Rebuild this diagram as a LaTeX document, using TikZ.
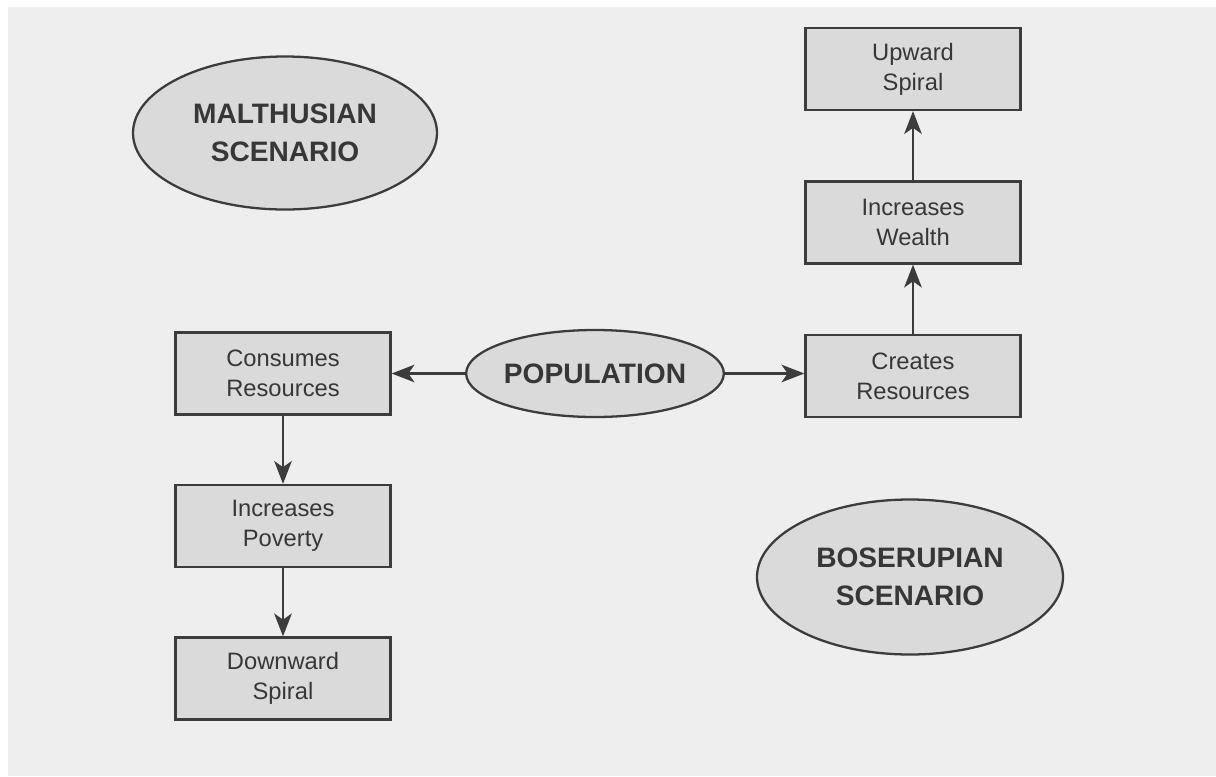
\documentclass[tikz,border=0pt]{standalone}
\usepackage{fontspec}
\setmainfont{Liberation Sans}
\usetikzlibrary{arrows.meta, shapes, positioning, calc}
\definecolor{PageGray}{RGB}{238,238,238}
\definecolor{BoxGray}{RGB}{218,218,218}
\definecolor{LineGray}{RGB}{60,60,60}
\definecolor{InkGray}{RGB}{55,55,55}

\begin{document}
\begin{tikzpicture}[
        stepbox/.style={draw=LineGray, line width=1.3pt, fill=BoxGray, text=InkGray,
            minimum width=4.3cm, minimum height=1.64cm, align=center,
            font=\fontsize{13.5pt}{17pt}\selectfont},
        scenario/.style={ellipse, draw=LineGray, line width=1.3pt, fill=BoxGray, text=InkGray,
            inner sep=0pt, align=center, font=\fontsize{16pt}{21.5pt}\selectfont\bfseries},
        flow/.style={draw=LineGray, line width=1.3pt, -{Stealth[length=13pt,width=10pt,inset=3.5pt]}}
    ]
        % page and its margins
        \fill[white] (0,0) rectangle (24.32,-15.52);
        \fill[PageGray] (0.16,-0.14) rectangle (24.32,-15.52);
        \useasboundingbox (0,0) rectangle (24.32,-15.52);

        % the two scenarios
        \node[scenario, minimum width=6.08cm, minimum height=3.06cm] (malthus) at (5.70,-2.66) {MALTHUSIAN\\SCENARIO};
        \node[scenario, minimum width=6.12cm, minimum height=3.1cm] (boserup) at (18.20,-11.54) {BOSERUPIAN\\SCENARIO};
        \node[scenario, minimum width=5.12cm, minimum height=1.74cm] (pop) at (11.90,-7.47) {POPULATION};

        % left branch
        \node[stepbox] (consume) at (5.66,-7.47) {Consumes\\Resources};
        \node[stepbox] (poverty) at (5.66,-10.52) {Increases\\Poverty};
        \node[stepbox] (downward) at (5.66,-13.57) {Downward\\Spiral};

        % right branch
        \node[stepbox] (creates) at (18.26,-7.52) {Creates\\Resources};
        \node[stepbox] (wealth) at (18.26,-4.45) {Increases\\Wealth};
        \node[stepbox] (upward) at (18.26,-1.38) {Upward\\Spiral};

        \draw[flow] (pop) -- (consume);
        \draw[flow] (pop.east) -- (pop.east -| creates.west);
        \draw[flow] (consume) -- (poverty);
        \draw[flow] (poverty) -- (downward);
        \draw[flow] (creates) -- (wealth);
        \draw[flow] (wealth) -- (upward);
    \end{tikzpicture}
\end{document}
